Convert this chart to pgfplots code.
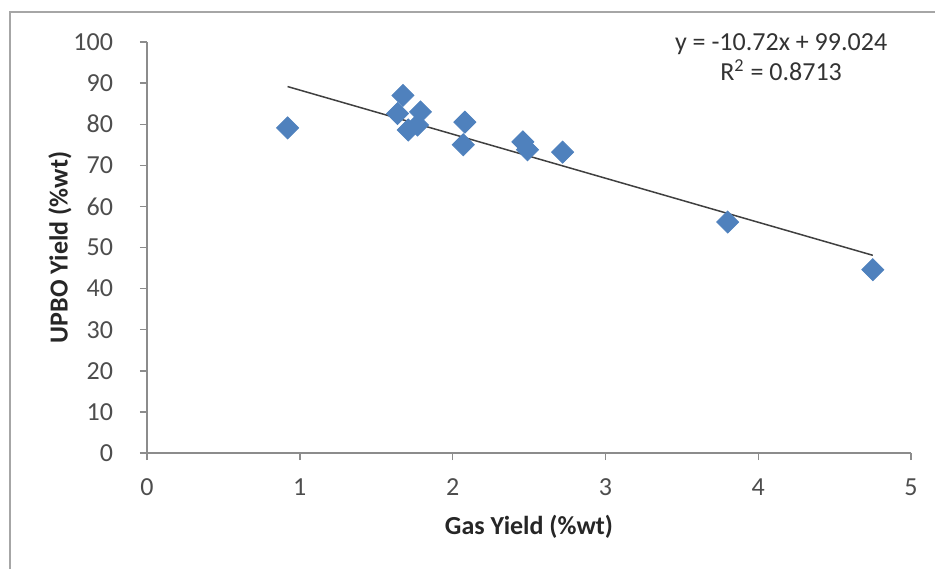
\documentclass[border=0pt]{standalone}
\usepackage{fontspec}
\setmainfont{Carlito}
\usepackage{pgfplots}
\pgfplotsset{compat=1.18}

\definecolor{markblue}{HTML}{4F81BD}
\definecolor{axisgray}{HTML}{8C8C8C}
\definecolor{ticktext}{HTML}{4D4D4D}
\definecolor{framegray}{HTML}{A6A6A6}

\begin{document}
\begin{tikzpicture}
\useasboundingbox (-73.5pt,-58pt) rectangle (394pt,226.5pt);
% outer frame (left and top edges)
\draw[framegray, line width=1.2pt] (-68.5pt,-58pt) -- (-68.5pt,220.5pt) -- (394pt,220.5pt);
\begin{axis}[
  at={(0,0)}, anchor=south west,
  scale only axis,
  width=382pt, height=205.5pt,
  xmin=0, xmax=5, ymin=0, ymax=100,
  xtick={0,1,2,3,4,5},
  ytick={0,10,20,30,40,50,60,70,80,90,100},
  axis x line*=bottom, axis y line*=left,
  axis line style={axisgray, line width=0.8pt, -},
  tick style={axisgray, line width=0.7pt},
  tick align=outside,
  major tick length=3.5pt,
  /pgf/number format/assume math mode=true,
  ticklabel style={font=\fontsize{13}{15}\selectfont, text=ticktext},
  xticklabel style={yshift=-6pt},
  yticklabel style={xshift=-10pt},
  xlabel={Gas Yield (\%wt)},
  ylabel={UPBO Yield (\%wt)},
  label style={font=\fontsize{13}{15}\selectfont\bfseries, text=black!85},
  xlabel style={at={(axis description cs:0.5,-0.18)}, anchor=center},
  ylabel style={at={(axis description cs:-0.114,0.5)}, anchor=center, rotate=0},
  clip=false,
]
% measured yields
\addplot[only marks, mark=square*, mark size=3.9pt,
  mark options={rotate=45, fill=markblue, draw=markblue}]
  coordinates {
    (0.92,79.1)
    (1.675,87.0)
    (1.64,82.6)
    (1.79,83.0)
    (1.71,78.6)
    (1.77,79.8)
    (2.08,80.5)
    (2.07,75.0)
    (2.46,75.7)
    (2.49,73.8)
    (2.72,73.2)
    (3.80,56.2)
    (4.75,44.6)
  };
% linear trend line y = -10.72x + 99.024
\addplot[color=black!75, line width=0.75pt] coordinates {(0.92,89.16) (4.75,48.104)};
\node[align=center, font=\fontsize{13}{15}\selectfont, text=black!80]
  at (axis cs:4.15,96.3) {y = -10.72x + 99.024\\R\textsuperscript{2} = 0.8713};
\end{axis}
\end{tikzpicture}
\end{document}
